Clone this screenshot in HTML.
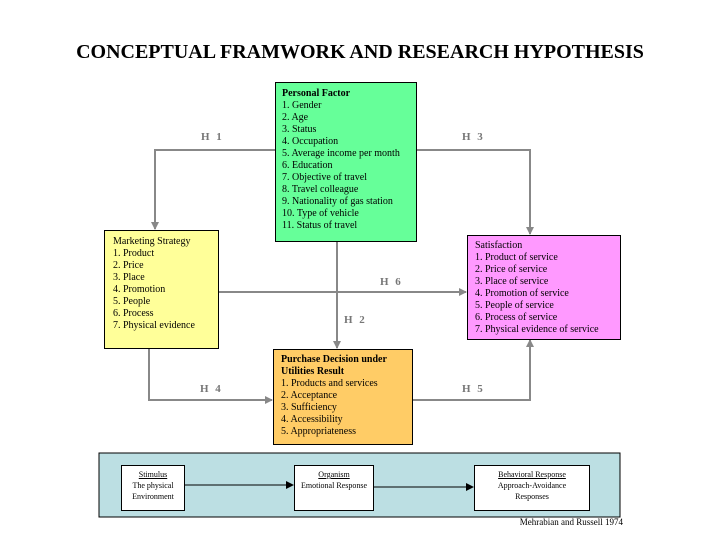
<!DOCTYPE html>
<html><head><style>
body{margin:0;width:720px;height:540px;background:#fff;position:relative;overflow:hidden;font-family:"Liberation Serif",serif;}
.b{position:absolute;border:1px solid #000;box-sizing:border-box;font-size:10px;line-height:12px;padding:4px 6px;color:#000}
.t{position:absolute;font-size:11px;color:#777;font-weight:bold;letter-spacing:2px}
.i{position:absolute;background:#fff;border:1px solid #000;box-sizing:border-box;font-size:8px;line-height:11px;text-align:center;padding-top:3px}
</style></head><body>
<div style="position:absolute;left:0;width:720px;top:41px;text-align:center;font-size:20px;font-weight:bold;">CONCEPTUAL FRAMWORK AND RESEARCH HYPOTHESIS</div>
<svg width="720" height="540" style="position:absolute;left:0;top:0">
<defs><marker id="g" markerWidth="8" markerHeight="8" refX="7" refY="4" orient="auto" markerUnits="userSpaceOnUse"><path d="M0,0 L8,4 L0,8z" fill="#888"/></marker>
<marker id="k" markerWidth="8" markerHeight="8" refX="7" refY="4" orient="auto" markerUnits="userSpaceOnUse"><path d="M0,0 L8,4 L0,8z" fill="#000"/></marker></defs>
<g stroke="#888" stroke-width="2" fill="none">
<polyline points="275,150 155,150 155,229" marker-end="url(#g)"/>
<polyline points="416,150 530,150 530,234" marker-end="url(#g)"/>
<polyline points="218,292 466,292" marker-end="url(#g)"/>
<polyline points="337,242 337,348" marker-end="url(#g)"/>
<polyline points="149,349 149,400 272,400" marker-end="url(#g)"/>
<polyline points="412,400 530,400 530,340" marker-end="url(#g)"/>
</g>
<rect x="99" y="453" width="521" height="64" fill="#bcdfe3" stroke="#000"/>
<g stroke="#000" stroke-width="1">
<line x1="184" y1="485" x2="293" y2="485" marker-end="url(#k)"/>
<line x1="374" y1="487" x2="473" y2="487" marker-end="url(#k)"/>
</g>
</svg>
<div class="b" style="left:275px;top:82px;width:142px;height:160px;background:#66ff99;padding-top:5px"><b>Personal Factor</b><br>1. Gender<br>2. Age<br>3. Status<br>4. Occupation<br>5. Average income per month<br>6. Education<br>7. Objective of travel<br>8. Travel colleague<br>9. Nationality of gas station<br>10. Type of vehicle<br>11. Status of travel</div>
<div class="b" style="left:104px;top:230px;width:115px;height:119px;background:#ffff99;padding-top:5px;padding-left:8px">Marketing Strategy<br>1. Product<br>2. Price<br>3. Place<br>4. Promotion<br>5. People<br>6. Process<br>7. Physical evidence</div>
<div class="b" style="left:467px;top:235px;width:154px;height:105px;background:#ff99ff;padding-top:4px;padding-left:7px">Satisfaction<br>1. Product of service<br>2. Price of service<br>3. Place of service<br>4. Promotion of service<br>5. People of service<br>6. Process of service<br>7. Physical evidence of service</div>
<div class="b" style="left:273px;top:349px;width:140px;height:96px;background:#ffcc66;padding-top:4px;padding-left:7px"><b>Purchase Decision under Utilities Result</b><br>1. Products and services<br>2. Acceptance<br>3. Sufficiency<br>4. Accessibility<br>5. Appropriateness</div>
<div class="t" style="left:201px;top:131px">H 1</div>
<div class="t" style="left:462px;top:131px">H 3</div>
<div class="t" style="left:380px;top:276px">H 6</div>
<div class="t" style="left:344px;top:314px">H 2</div>
<div class="t" style="left:200px;top:383px">H 4</div>
<div class="t" style="left:462px;top:383px">H 5</div>
<div class="i" style="left:121px;top:465px;width:64px;height:46px"><u>Stimulus</u><br>The physical<br>Environment</div>
<div class="i" style="left:294px;top:465px;width:80px;height:46px"><u>Organism</u><br>Emotional Response</div>
<div class="i" style="left:474px;top:465px;width:116px;height:46px"><u>Behavioral Response</u><br>Approach-Avoidance<br>Responses</div>
<div style="position:absolute;right:97px;top:517px;font-size:9px">Mehrabian and Russell 1974</div>
</body></html>
